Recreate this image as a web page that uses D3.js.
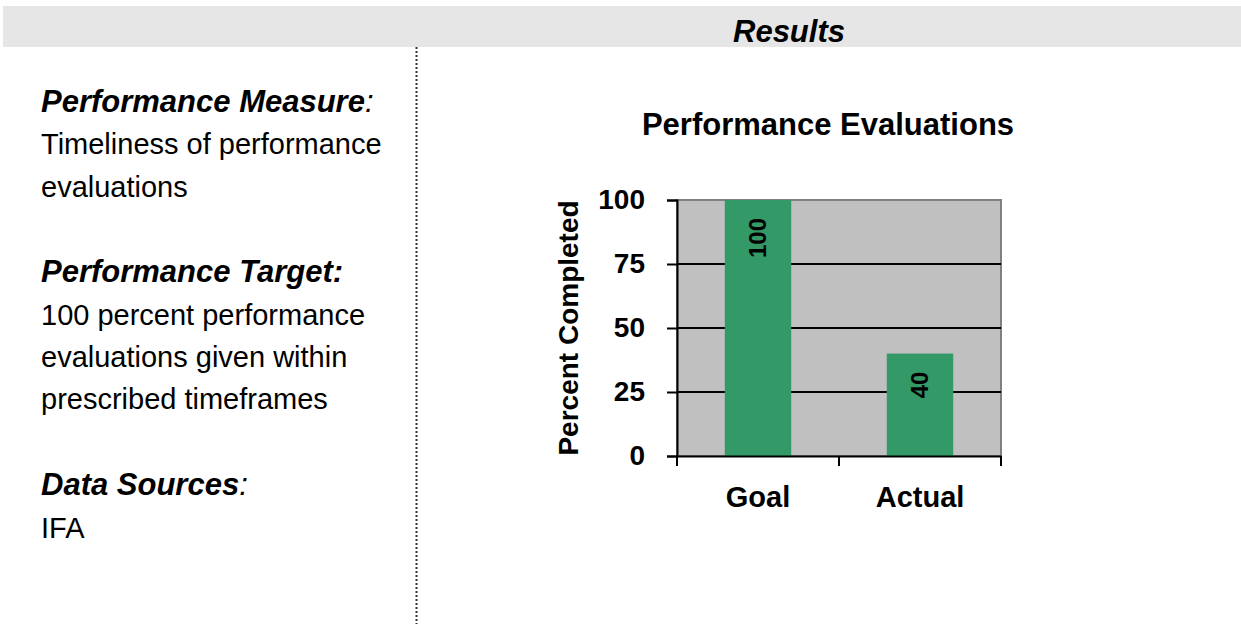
<!DOCTYPE html>
<meta charset="utf-8">
<head>
<style>
body { margin: 0; background: #fff; }
text { font-family: "Liberation Sans", Arial, sans-serif; }
</style>
</head>
<body>
<svg width="1241" height="624"></svg>
<script src="https://cdn.jsdelivr.net/npm/d3@7"></script>
<script>

var categories = ["Goal", "Actual"];
var values = [100, 40];
var yTicks = [0, 25, 50, 75, 100];

var svg = d3.select("svg");

// header band
svg.append("rect")
    .attr("x", 3).attr("y", 6).attr("width", 1238).attr("height", 41)
    .attr("fill", "#e6e6e6");
svg.append("text")
    .attr("x", 789).attr("y", 42)
    .attr("text-anchor", "middle")
    .style("font-size", "31px").style("font-weight", "bold").style("font-style", "italic")
    .text("Results");

// dotted divider
svg.append("line")
    .attr("x1", 416.5).attr("x2", 416.5).attr("y1", 47).attr("y2", 624)
    .style("stroke", "#333").style("stroke-width", 2)
    .style("stroke-dasharray", "2,2");

// left text block
var left = [
  {t: "Performance Measure", colon: ":", y: 112, head: true},
  {t: "Timeliness of performance", y: 154},
  {t: "evaluations", y: 197},
  {t: "Performance Target:", colon: "", y: 282, head: true},
  {t: "100 percent performance", y: 325},
  {t: "evaluations given within", y: 367},
  {t: "prescribed timeframes", y: 409},
  {t: "Data Sources", colon: ":", y: 495, head: true},
  {t: "IFA", y: 538}
];
left.forEach(function(d) {
  var tx = svg.append("text")
      .attr("x", 41).attr("y", d.y)
      .style("font-size", d.head ? "31px" : "29px").style("fill", "#000");
  if (d.head) {
    tx.append("tspan").style("font-weight", "bold").style("font-style", "italic").text(d.t);
    if (d.colon) tx.append("tspan").style("font-style", "italic").text(d.colon);
  } else {
    tx.text(d.t);
  }
});

// chart
var x0 = 677, x1 = 1001, y0 = 200, y1 = 456;

svg.append("text")
    .attr("x", 828).attr("y", 135)
    .attr("text-anchor", "middle")
    .style("font-size", "31px").style("font-weight", "bold")
    .text("Performance Evaluations");

var x = d3.scaleBand().domain(categories).range([x0, x1]).paddingInner(0.59).paddingOuter(0.295);
var y = d3.scaleLinear().domain([0, 100]).range([y1, y0]);

svg.append("rect")
    .attr("x", x0).attr("y", y0).attr("width", x1 - x0).attr("height", y1 - y0)
    .attr("fill", "#c0c0c0")
    .style("stroke", "#808080").style("stroke-width", 2);

svg.append("g").selectAll("line")
    .data(yTicks.filter(function(v) { return v > 0 && v < 100; }))
    .enter().append("line")
      .attr("x1", x0).attr("x2", x1)
      .attr("y1", function(d) { return y(d); }).attr("y2", function(d) { return y(d); })
      .style("stroke", "#000").style("stroke-width", 2);

svg.append("g").selectAll("rect")
    .data(values)
    .enter().append("rect")
      .attr("x", function(d, i) { return x(categories[i]); })
      .attr("y", function(d) { return y(d); })
      .attr("width", x.bandwidth())
      .attr("height", function(d) { return y(0) - y(d); })
      .attr("fill", "#339966");

// bar value labels (rotated)
svg.append("g").selectAll("text")
    .data(values)
    .enter().append("text")
      .attr("transform", function(d, i) {
        var cx = x(categories[i]) + x.bandwidth() / 2 + 8;
        var cy = y(d) + 18;
        return "translate(" + cx + "," + cy + ") rotate(-90)";
      })
      .attr("text-anchor", "end")
      .style("font-size", "24px").style("font-weight", "bold")
      .text(function(d) { return d; });

// y axis
var yAxis = svg.append("g")
    .attr("transform", "translate(" + x0 + ",0)")
    .call(d3.axisLeft(y).tickValues(yTicks).tickSize(10).tickPadding(22));
yAxis.select(".domain").style("stroke", "#000").style("stroke-width", 2);
yAxis.selectAll(".tick line").style("stroke", "#000").style("stroke-width", 2);
yAxis.selectAll("text")
    .style("font-family", "'Liberation Sans', Arial, sans-serif")
    .style("font-size", "28px").style("font-weight", "bold").style("fill", "#000");

// x axis
var xAxis = svg.append("g")
    .attr("transform", "translate(0," + y1 + ")")
    .call(d3.axisBottom(x).tickSize(0).tickPadding(30));
xAxis.select(".domain").style("stroke", "#000").style("stroke-width", 2);
xAxis.selectAll("text")
    .style("font-family", "'Liberation Sans', Arial, sans-serif")
    .style("font-size", "29px").style("font-weight", "bold").style("fill", "#000");
// boundary ticks between categories
svg.append("g").selectAll("line")
    .data([x0, (x(categories[0]) + x.bandwidth() + x(categories[1])) / 2, x1])
    .enter().append("line")
      .attr("x1", function(d) { return d; }).attr("x2", function(d) { return d; })
      .attr("y1", y1).attr("y2", y1 + 10)
      .style("stroke", "#000").style("stroke-width", 2);

svg.append("text")
    .attr("transform", "translate(578," + ((y0 + y1) / 2) + ") rotate(-90)")
    .attr("text-anchor", "middle")
    .style("font-size", "28px").style("font-weight", "bold")
    .text("Percent Completed");

</script>
</body>
